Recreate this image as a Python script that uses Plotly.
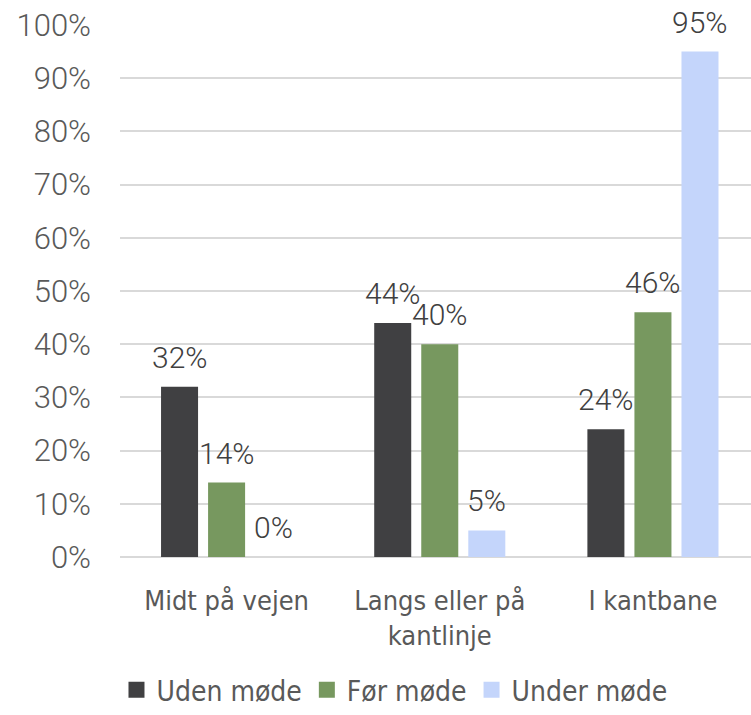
import plotly.graph_objects as go

categories = ["Midt på vejen", "Langs eller på<br>kantlinje", "I kantbane"]
series_names = ["Uden møde", "Før møde", "Under møde"]
uden = [32, 44, 24]
foer = [14, 40, 46]
under = [0, 5, 95]
colors = ["#404042", "#77985F", "#C4D5FB"]
y_ticks = [0, 10, 20, 30, 40, 50, 60, 70, 80, 90, 100]
y_ticktext = [f"{t}%" for t in y_ticks]

values = [uden, foer, under]
x_idx = list(range(len(categories)))
narrow = "DejaVu Sans Condensed, Liberation Sans Narrow, Roboto"

fig = go.Figure()
for name, vals, col in zip(series_names, values, colors):
    fig.add_trace(go.Bar(x=x_idx, y=vals, name=name, showlegend=False,
                         marker=dict(color=col, line=dict(width=0))))
# legend entries with larger square symbols
for name, col in zip(series_names, colors):
    fig.add_trace(go.Scatter(x=[None], y=[None], mode="markers", name=name,
                             marker=dict(symbol="square", size=17, color=col)))

slot_px = 47
annotations = []
for s, vals in enumerate(values):
    for i, v in enumerate(vals):
        annotations.append(dict(
            x=i, y=v, xref="x", yref="y", text=f"{v}%", showarrow=False,
            yanchor="bottom", xanchor="center", xshift=(s - 1) * slot_px, yshift=10,
            font=dict(family="Roboto", size=30, weight=300, color="#404040")))

fig.update_layout(
    width=751, height=715,
    margin=dict(l=120, r=0, t=25, b=157),
    paper_bgcolor="white", plot_bgcolor="white",
    barmode="group", bargap=0.338, bargroupgap=0.213,
    annotations=annotations,
    showlegend=True,
    legend=dict(orientation="h", x=0.435, xanchor="center", y=-0.25, yanchor="middle",
                font=dict(family=narrow, size=28, color="#595959"),
                itemwidth=30, tracegroupgap=0, itemsizing="trace"),
    xaxis=dict(tickmode="array", tickvals=x_idx, ticktext=categories,
               range=[-0.5, 2.46], showgrid=False, zeroline=False,
               showline=False, ticks="", ticklabelstandoff=25,
               tickfont=dict(family=narrow, size=27, color="#595959")),
    yaxis=dict(range=[0, 100], tickmode="array", tickvals=y_ticks, ticktext=y_ticktext,
               showgrid=True, gridcolor="#D9D9D9", gridwidth=2,
               zeroline=True, zerolinecolor="#D9D9D9", zerolinewidth=2,
               ticks="", ticklabelstandoff=28,
               tickfont=dict(family="Roboto", size=31, weight=300, color="#595959")),
)

fig.write_html("out.html")
